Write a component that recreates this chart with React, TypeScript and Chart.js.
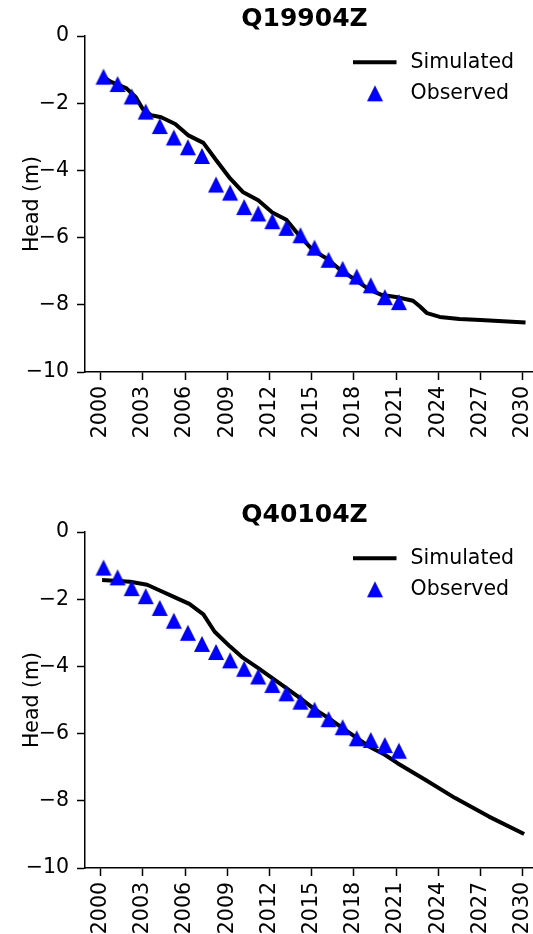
import React, { useEffect, useRef } from 'react';
import { Chart, registerables } from 'chart.js';

Chart.register(...registerables);

// ---------- data ----------
const xTicks = [2000, 2003, 2006, 2009, 2012, 2015, 2018, 2021, 2024, 2027, 2030];
const yTicks = [0, -2, -4, -6, -8, -10];
const seriesLabels = ['Simulated', 'Observed'];

const obsYears = [
  2000.2, 2001.2, 2002.2, 2003.2, 2004.2, 2005.2, 2006.2, 2007.2, 2008.2, 2009.2, 2010.2,
  2011.2, 2012.2, 2013.2, 2014.2, 2015.2, 2016.2, 2017.2, 2018.2, 2019.2, 2020.2, 2021.2,
];

// Q19904Z
const obsHeadQ19904Z = [
  -1.21, -1.43, -1.80, -2.25, -2.68, -3.02, -3.31, -3.57, -4.42, -4.66, -5.09,
  -5.28, -5.51, -5.71, -5.93, -6.30, -6.66, -6.93, -7.16, -7.42, -7.77, -7.92,
];
const simYearsQ19904Z = [
  2000.2, 2000.7, 2001.8, 2002.5, 2003.0, 2003.6, 2004.3, 2005.3, 2006.2, 2007.3, 2008.2,
  2009.2, 2010.1, 2011.2, 2012.2, 2013.2, 2014.2, 2015.1, 2016.1, 2017.0, 2018.0, 2019.1,
  2020.0, 2021.0, 2022.2, 2022.7, 2023.2, 2024.1, 2025.5, 2027.0, 2030.2,
];
const simHeadQ19904Z = [
  -1.22, -1.36, -1.55, -1.82, -2.18, -2.36, -2.42, -2.62, -2.95, -3.18, -3.69,
  -4.24, -4.64, -4.89, -5.25, -5.47, -5.98, -6.38, -6.63, -6.95, -7.23, -7.55,
  -7.71, -7.77, -7.88, -8.05, -8.25, -8.36, -8.42, -8.45, -8.53,
];

// Q40104Z
const obsHeadQ40104Z = [
  -1.06, -1.35, -1.67, -1.91, -2.26, -2.64, -3.00, -3.33, -3.57, -3.82, -4.07,
  -4.30, -4.55, -4.80, -5.05, -5.29, -5.57, -5.81, -6.14, -6.19, -6.34, -6.51,
];
const simYearsQ40104Z = [
  2000.1, 2002.1, 2003.3, 2004.2, 2005.2, 2006.3, 2007.3, 2008.1, 2009.2, 2010.1, 2011.2,
  2012.2, 2013.2, 2014.2, 2015.1, 2016.2, 2017.2, 2018.2, 2019.1, 2020.2, 2021.1, 2023.1,
  2025.2, 2027.6, 2030.1,
];
const simHeadQ40104Z = [
  -1.43, -1.48, -1.57, -1.74, -1.93, -2.14, -2.45, -2.97, -3.41, -3.74, -4.05,
  -4.35, -4.65, -4.95, -5.24, -5.54, -5.84, -6.13, -6.39, -6.63, -6.88, -7.38,
  -7.92, -8.47, -8.99,
];

// ---------- styling ----------
const FONT = '"DejaVu Sans", sans-serif';
const W = 533;
const PLOT_BOTTOM = 372;
const PLOT_LEFT = 85;

function makeTriangle(): HTMLCanvasElement {
  const c = document.createElement('canvas');
  c.width = 18;
  c.height = 18;
  const g = c.getContext('2d')!;
  g.fillStyle = '#0000ff';
  g.beginPath();
  g.moveTo(9, 1);
  g.lineTo(17, 17);
  g.lineTo(1, 17);
  g.closePath();
  g.fill();
  return c;
}

// Let the plotting area run to the right edge of the canvas, like the reference.
const stretchPlugin = {
  id: 'stretchX',
  afterLayout(chart: any) {
    const xs = chart.scales.x;
    const right = chart.width;
    chart.chartArea.right = right;
    chart.chartArea.width = right - chart.chartArea.left;
    xs.right = right;
    xs.width = right - xs.left;
    xs.configure();
  },
};

const legendPlugin = {
  id: 'insideLegend',
  afterDraw(chart: any) {
    const ctx = chart.ctx as CanvasRenderingContext2D;
    const tri = chart.options.plugins.insideLegend.marker as HTMLCanvasElement;
    ctx.save();
    ctx.strokeStyle = '#000';
    ctx.lineWidth = 4;
    ctx.beginPath();
    ctx.moveTo(353, 62.3);
    ctx.lineTo(396.5, 62.3);
    ctx.stroke();
    ctx.drawImage(tri, 375 - tri.width / 2, 93.3 - tri.height / 2);
    ctx.fillStyle = '#000';
    ctx.font = `20.5px ${FONT}`;
    ctx.textBaseline = 'middle';
    ctx.textAlign = 'left';
    ctx.fillText(chart.data.datasets[1].label, 410.5, 62.3);
    ctx.fillText(chart.data.datasets[0].label, 410.5, 93.3);
    ctx.restore();
  },
};

function fmtMinus(v: number) {
  return v < 0 ? '\u2212' + String(Math.abs(v)) : String(v);
}

interface HeadChartProps {
  title: string;
  simYears: number[];
  simHead: number[];
  obsHead: number[];
  height: number;
}

function HeadChart({ title, simYears, simHead, obsHead, height }: HeadChartProps) {
  const ref = useRef<HTMLCanvasElement>(null);

  useEffect(() => {
    if (!ref.current) return;
    const tri = makeTriangle();
    const chart = new Chart(ref.current, {
      type: 'scatter',
      data: {
        datasets: [
          {
            label: seriesLabels[1],
            data: obsYears.map((x, i) => ({ x, y: obsHead[i] })),
            pointStyle: tri as any,
            pointRadius: 8,
            showLine: false,
            backgroundColor: '#0000ff',
            borderColor: '#0000ff',
          },
          {
            label: seriesLabels[0],
            data: simYears.map((x, i) => ({ x, y: simHead[i] })),
            showLine: true,
            pointRadius: 0,
            borderColor: '#000',
            borderWidth: 4,
            borderJoinStyle: 'round',
            borderCapStyle: 'butt',
            tension: 0,
            fill: false,
          } as any,
        ],
      },
      options: {
        animation: false,
        responsive: false,
        devicePixelRatio: 1,
        layout: { padding: 0 },
        events: [],
        plugins: {
          legend: { display: false },
          tooltip: { enabled: false },
          title: {
            display: true,
            text: title,
            fullSize: false,
            color: '#000',
            font: { family: FONT, size: 25, weight: 'bold', lineHeight: 1.2 },
            padding: { top: 4, bottom: 2 },
          },
          insideLegend: { marker: tri },
        } as any,
        scales: {
          x: {
            type: 'linear',
            min: 1998.884,
            max: 2030.732,
            afterBuildTicks: (s: any) => {
              s.ticks = xTicks.map((v) => ({ value: v }));
            },
            afterFit: (s: any) => {
              s.height = height - PLOT_BOTTOM;
              s.paddingLeft = 0;
              s.paddingRight = 0;
            },
            ticks: {
              autoSkip: false,
              minRotation: 90,
              maxRotation: 90,
              padding: 6,
              color: '#000',
              font: { family: FONT, size: 20.5, lineHeight: 1 },
              callback: (v: any) => String(v),
            },
            grid: {
              drawOnChartArea: false,
              drawTicks: true,
              tickLength: 8,
              tickWidth: 1.5,
              tickColor: '#000',
            },
            border: { display: true, color: '#000', width: 1.5 },
          },
          y: {
            type: 'linear',
            min: yTicks[yTicks.length - 1],
            max: yTicks[0],
            afterBuildTicks: (s: any) => {
              s.ticks = yTicks.map((v) => ({ value: v }));
            },
            afterFit: (s: any) => {
              s.width = PLOT_LEFT;
              s.paddingTop = 0;
              s.paddingBottom = 0;
            },
            ticks: {
              autoSkip: false,
              padding: 8,
              color: '#000',
              font: { family: FONT, size: 20.5 },
              callback: (v: any) => fmtMinus(Number(v)),
            },
            title: {
              display: true,
              text: 'Head (m)',
              color: '#000',
              font: { family: FONT, size: 20.5, lineHeight: 1.2 },
              padding: { top: 20, bottom: 0 },
            },
            grid: {
              drawOnChartArea: false,
              drawTicks: true,
              tickLength: 8,
              tickWidth: 1.5,
              tickColor: '#000',
            },
            border: { display: true, color: '#000', width: 1.5 },
          },
        },
      },
      plugins: [stretchPlugin, legendPlugin],
    } as any);
    return () => chart.destroy();
  }, [title, simYears, simHead, obsHead, height]);

  return (
    <canvas
      ref={ref}
      width={W}
      height={height}
      style={{ display: 'block', width: W, height }}
    />
  );
}

export default function App() {
  return (
    <div style={{ position: 'absolute', left: 0, top: 0, width: W, height: 934, background: '#fff' }}>
      <HeadChart
        title="Q19904Z"
        simYears={simYearsQ19904Z}
        simHead={simHeadQ19904Z}
        obsHead={obsHeadQ19904Z}
        height={496}
      />
      <HeadChart
        title="Q40104Z"
        simYears={simYearsQ40104Z}
        simHead={simHeadQ40104Z}
        obsHead={obsHeadQ40104Z}
        height={438}
      />
    </div>
  );
}
